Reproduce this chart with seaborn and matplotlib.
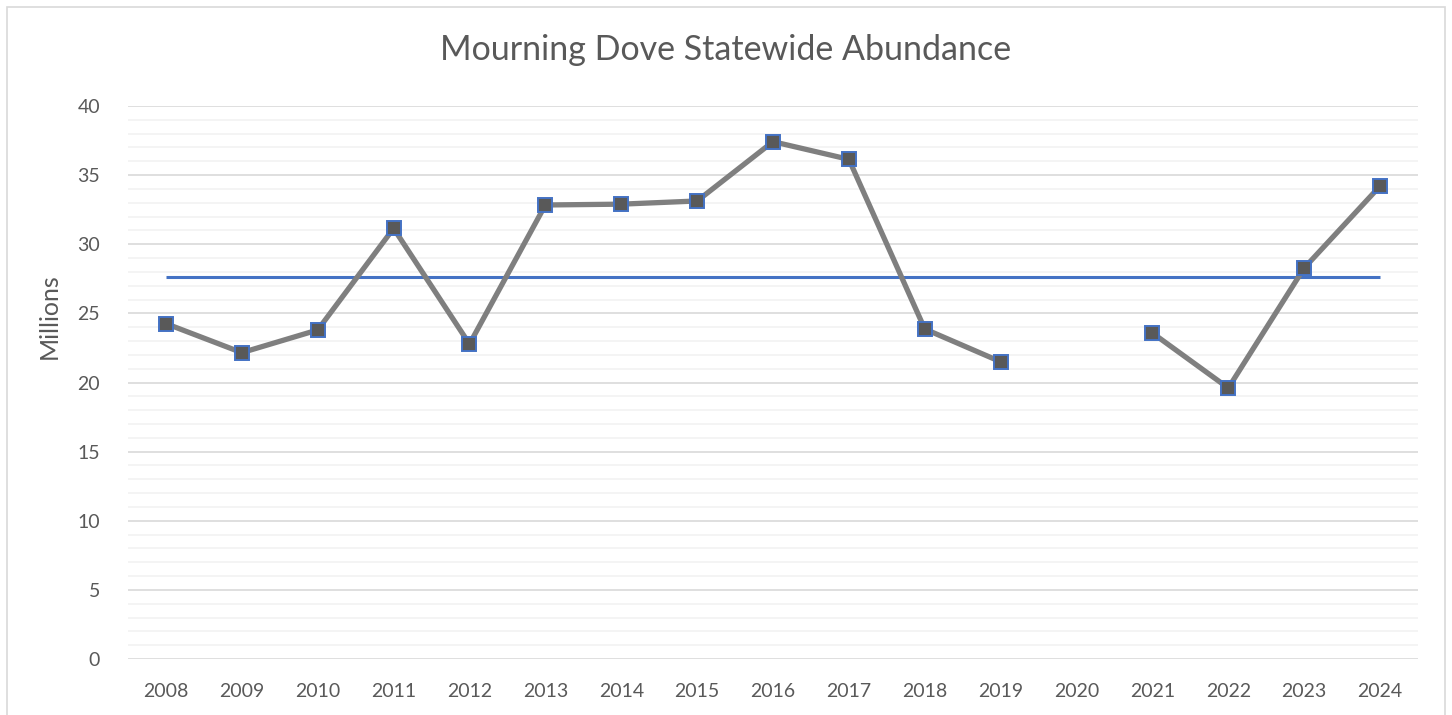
import numpy as np
import pandas as pd
import matplotlib.pyplot as plt
import seaborn as sns
from matplotlib.patches import Rectangle
from matplotlib.ticker import MultipleLocator

# Survey years and abundance estimates (millions), 2020 has no survey
years = [2008, 2009, 2010, 2011, 2012, 2013, 2014, 2015, 2016,
         2017, 2018, 2019, 2020, 2021, 2022, 2023, 2024]
abundance = [24.26, 22.16, 23.8, 31.15, 22.78, 32.84, 32.9, 33.13, 37.42,
             36.14, 23.87, 21.5, np.nan, 23.58, 19.6, 28.28, 34.21]
# Long-term average line
mean_value = 27.6

df = pd.DataFrame({"Year": years, "Millions": abundance})
# split into segments so the line breaks at the missing year
df["segment"] = df["Millions"].isna().cumsum()
df = df.dropna(subset=["Millions"])

sns.set_style("white")
plt.rcParams["font.family"] = ["Lato", "DejaVu Sans"]
text_col = "#595959"

fig = plt.figure(figsize=(14.52, 7.15), dpi=100)
ax = fig.add_axes([128 / 1452, 1 - 659 / 715, (1418 - 128) / 1452, (659 - 106) / 715])

# average line
ax.hlines(mean_value, years[0], years[-1], color="#4472c4", lw=2.2, zorder=2)

sns.lineplot(data=df, x="Year", y="Millions", units="segment", estimator=None,
             color="#7f7f7f", lw=3.8, marker="s", markersize=10.5,
             markerfacecolor="#595959", markeredgecolor="#4472c4",
             markeredgewidth=1.4, ax=ax, zorder=3)

ax.set_xlim(years[0] - 0.5, years[-1] + 0.5)
ax.set_ylim(0, 40)
ax.set_xticks(years)
ax.set_xticklabels([str(y) for y in years])
ax.yaxis.set_major_locator(MultipleLocator(5))
ax.yaxis.set_minor_locator(MultipleLocator(1))
ax.grid(which="major", axis="y", color="#d9d9d9", lw=1.2, zorder=0)
ax.grid(which="minor", axis="y", color="#f2f2f2", lw=1.2, zorder=0)
ax.set_axisbelow(True)
sns.despine(ax=ax, left=True, bottom=True)
ax.tick_params(axis="both", which="both", length=0, labelsize=14, colors=text_col)
ax.tick_params(axis="x", pad=17)
ax.tick_params(axis="y", pad=20)

ax.set_xlabel("")
ax.set_ylabel("Millions", color=text_col)
ax.yaxis.label.set_fontsize(18)
ax.yaxis.set_label_coords(-0.052, 0.62)
fig.text(0.5, 1 - 50 / 715, "Mourning Dove Statewide Abundance", fontsize=24.5,
         color=text_col, ha="center", va="center")

# chart border
fig.patches.append(Rectangle((7 / 1452, -0.02), (1445 - 7) / 1452, 1 - 7 / 715 + 0.02,
                             transform=fig.transFigure, fill=False,
                             edgecolor="#d9d9d9", lw=1.2))

plt.savefig("out.png", dpi=100)
